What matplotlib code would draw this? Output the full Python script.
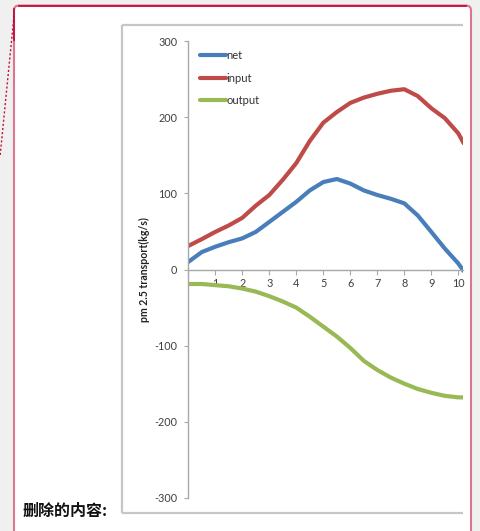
import matplotlib
matplotlib.use("Agg")
import matplotlib.pyplot as plt
from matplotlib.patches import FancyBboxPatch

plt.rcParams['font.family'] = ['Lato', 'DejaVu Sans']
plt.rcParams['axes.unicode_minus'] = False

# ---- data ----
x = [0, 0.5, 1, 1.5, 2, 2.5, 3, 3.5, 4, 4.5, 5, 5.5, 6, 6.5, 7, 7.5, 8, 8.5, 9, 9.5, 10, 10.2]
net = [10, 23, 30, 36, 41, 49.5, 62.6, 75.8, 89, 104, 115, 119, 113, 104, 98, 93, 87, 71, 49.5, 27.6, 8, -2]
inp = [31, 40, 49.5, 58, 68, 84, 98, 118, 140, 169, 193, 207, 219, 226, 231, 235, 237, 228, 212, 199, 179, 166]
out = [-19, -19, -20.5, -22, -25, -29, -35, -42, -50, -62, -75, -88, -103, -120, -132, -142, -150, -157, -162, -166, -168, -168]
series_names = ["net", "input", "output"]
y_ticks = [-300, -200, -100, 0, 100, 200, 300]
x_ticks = [0, 1, 2, 3, 4, 5, 6, 7, 8, 9, 10]
x_ticklabels = ["", "1", "2", "3", "4", "5", "6", "7", "8", "9", "10"]
y_label = "pm 2.5 transport(kg/s)"
caption = "删除的内容:"

W, H = 480, 531
fig = plt.figure(figsize=(W / 100, H / 100), dpi=100, facecolor="#f0f0f0")

# background/pixel-coordinate axes
bg = fig.add_axes([0, 0, 1, 1])
bg.set_xlim(0, W)
bg.set_ylim(H, 0)
bg.axis("off")
bg.patch.set_alpha(0)

# pink container box
box = FancyBboxPatch((14, 5.5), 471 - 14, 560, boxstyle="round,pad=0,rounding_size=5",
                     facecolor="white", edgecolor="#dc7690", linewidth=1.5)
bg.add_patch(box)
bg.plot([18, 467], [5.5, 5.5], color="#c0103a", lw=1.3, solid_capstyle="butt")
bg.plot([14, 14], [9, 40], color="#c0103a", lw=1.3)
# dotted connector line
bg.plot([14, 0], [16, 157], color="#c0103a", lw=1.0, ls=(0, (1.5, 1.5)))

# chart frame (clipped on the right)
frame_c = "#c6c6c6"
bg.plot([122, 463], [25, 25], color=frame_c, lw=1.6, solid_capstyle="butt")
bg.plot([122, 122], [25, 512.5], color=frame_c, lw=1.6, solid_capstyle="butt")
bg.plot([122, 463], [512.5, 512.5], color=frame_c, lw=1.6, solid_capstyle="butt")

# plot axes
left, right = 188.3, 463
top, bottom = 41.3, 497.8
ax = fig.add_axes([left / W, 1 - bottom / H, (right - left) / W, (bottom - top) / H])
ax.patch.set_alpha(0)
colors = ["#4a7ebb", "#be4b48", "#98b954"]
for vals, c, name in zip([net, inp, out], colors, series_names):
    ax.plot(x, vals, color=c, lw=3.0, label=name, solid_capstyle="round",
            solid_joinstyle="round")

ax.set_xlim(0, (right - left) / 27.0)
ax.set_ylim(-300, 300)
ax.set_yticks(y_ticks)
ax.set_xticks(x_ticks)
ax.set_xticklabels(x_ticklabels)
for s in ["top", "right"]:
    ax.spines[s].set_visible(False)
ax.spines["left"].set_color("#a8a8a8")
ax.spines["left"].set_linewidth(1.0)
ax.spines["bottom"].set_position(("data", 0))
ax.spines["bottom"].set_color("#a8a8a8")
ax.spines["bottom"].set_linewidth(1.0)
ax.tick_params(axis="y", direction="out", length=3, width=0.8, color="#a8a8a8",
               labelsize=7.8, labelcolor="#404040", pad=5)
ax.tick_params(axis="x", direction="out", length=3.5, width=0.8, color="#a8a8a8",
               labelsize=7.8, labelcolor="#404040", pad=2.5)
ax.set_ylabel(y_label, fontsize=7.6, fontweight="bold", color="#222222")
ax.yaxis.set_label_coords(-(188.3 - 150) / (right - left), 0.5)

leg = ax.legend(loc="upper left", bbox_to_anchor=(200 / W, 1 - 50 / H),
                bbox_transform=fig.transFigure, frameon=False, fontsize=8,
                handlelength=2.3, handletextpad=0.05, labelspacing=1.05,
                borderpad=0, borderaxespad=0)
for t in leg.get_texts():
    t.set_color("#333333")

fig.text(23 / W, 1 - 511 / H, caption, ha="left", va="center", fontsize=11.5,
         fontweight="bold", family=["Noto Sans CJK SC", "DejaVu Sans"], color="#111111")

fig.savefig("out.png", dpi=100, facecolor=fig.get_facecolor())
